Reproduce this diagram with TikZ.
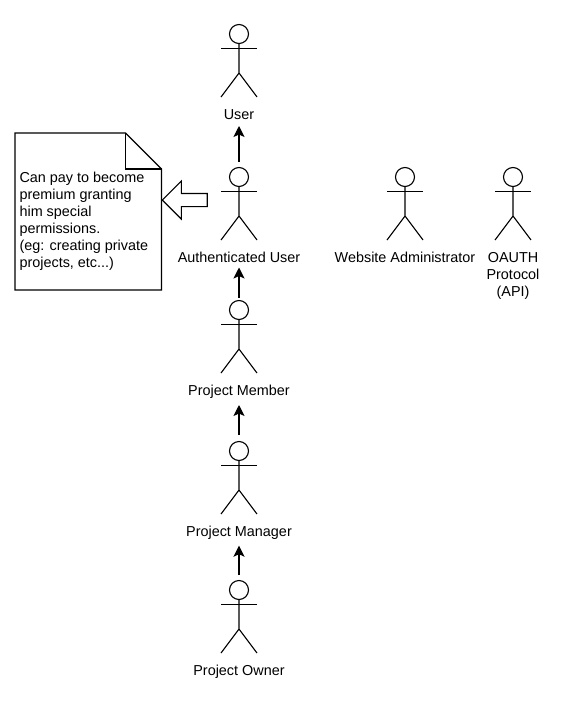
\documentclass[tikz,border=0pt]{standalone}
\usepackage{fontspec}
\setmainfont{Liberation Sans}
\usetikzlibrary{shapes, arrows, arrows.meta, positioning}

\begin{document}
\begin{tikzpicture}[
    x=1pt, y=-1pt,
    line width=1.1pt,
    font=\fontsize{14.4}{17}\selectfont,
    head/.style={circle, draw, minimum size=19pt, inner sep=0pt, outer sep=0pt},
    actorlabel/.style={align=center, inner sep=0pt, outer sep=0pt, execute at begin node=\strut},
    line/.style={draw, -{Stealth[length=11pt, width=11pt, inset=2.5pt]}},
    bigarrow/.style={single arrow, draw, shape border rotate=180, minimum width=37pt, minimum height=45pt, single arrow head extend=12.5pt, inner sep=0pt, text width=0pt, text height=6pt, text depth=6pt},
    actorbody/.pic={
        \draw (0,9.5) -- (0,39) -- (-18,63) (0,39) -- (18,63);
        \draw (-18,14.7) -- (18,14.7);
    }
]
    \useasboundingbox (0,0) rectangle (578,707);

    % Actors
    \node [head] (user) at (239,34) {};
    \node [head, below=124pt of user] (auth) {};
    \node [head, below=114pt of auth] (member) {};
    \node [head, below=122pt of member] (manager) {};
    \node [head, below=120pt of manager] (owner) {};
    \node [head, right=147pt of auth] (admin) {};
    \node [head, right=89pt of admin] (oauth) {};

    \pic at (user) {actorbody};
    \pic at (auth) {actorbody};
    \pic at (member) {actorbody};
    \pic at (manager) {actorbody};
    \pic at (owner) {actorbody};
    \pic at (admin) {actorbody};
    \pic at (oauth) {actorbody};

    % Labels
    \node [actorlabel, below=64pt of user] (userlabel) {User};
    \node [actorlabel, below=64pt of auth] (authlabel) {Authenticated User};
    \node [actorlabel, below=64pt of member] (memberlabel) {Project Member};
    \node [actorlabel, below=64pt of manager] (managerlabel) {Project Manager};
    \node [actorlabel, below=64pt of owner] (ownerlabel) {Project Owner};
    \node [actorlabel, below=64pt of admin] (adminlabel) {Website Administrator};
    \node [actorlabel, below=66pt of oauth] (oauthlabel) {OAUTH\\Protocol\\(API)};

    % Note
    \coordinate (noteanchor) at (15,133);
    \draw (noteanchor) -- (125.5,133) -- (161.5,169) -- (161.5,290) -- (15,290) -- cycle;
    \draw (125.5,133) -- (125.5,169) -- (161.5,169);
    \node [anchor=north west, inner sep=0pt, align=left] (note) at (19,172) {Can pay to become\\premium granting\\him special\\permissions.\\(eg: creating private\\projects, etc...)};
    \node [bigarrow, anchor=tip] (premium) at (161.5,200) {};

    % Paths
    \path [line, shorten <=6pt, shorten >=1.5pt] (auth) -- (userlabel);
    \path [line, shorten <=3pt, shorten >=0pt] (member) -- (authlabel);
    \path [line, shorten <=6.5pt, shorten >=4.5pt] (manager) -- (memberlabel);
    \path [line, shorten <=5.5pt, shorten >=4.2pt] (owner) -- (managerlabel);

\end{tikzpicture}
\end{document}
